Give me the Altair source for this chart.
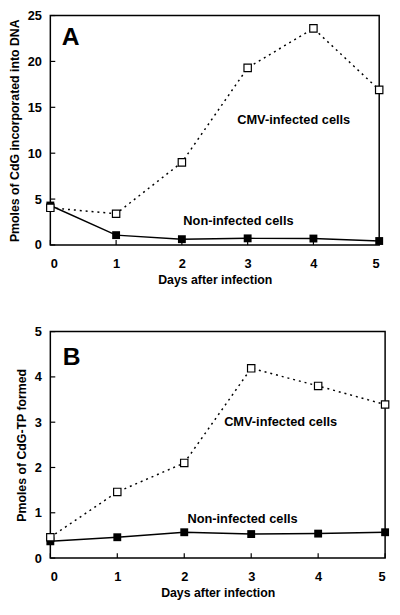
import altair as alt
import pandas as pd

days = [0, 1, 2, 3, 4, 5]
a_cmv = [4.05, 3.4, 9.0, 19.3, 23.6, 16.9]
a_non = [4.3, 1.07, 0.63, 0.72, 0.7, 0.43]
b_cmv = [0.46, 1.46, 2.1, 4.19, 3.8, 3.39]
b_non = [0.37, 0.46, 0.57, 0.53, 0.54, 0.57]

a_ticks = [0, 5, 10, 15, 20, 25]
b_ticks = [0, 1, 2, 3, 4, 5]

a_labels = ["A", "CMV-infected cells", "Non-infected cells"]
a_lx = [0.31, 3.70, 2.86]
a_ly = [22.6, 13.6, 2.6]
b_labels = ["B", "CMV-infected cells", "Non-infected cells"]
b_lx = [0.32, 3.44, 2.87]
b_ly = [4.43, 3.0, 0.87]

FONT = "Liberation Sans"


def panel(cmv, non, yticks, ytitle, labels, lx, ly, w, h):
    ymax = yticks[-1]
    df = pd.DataFrame({"day": days, "cmv": cmv, "non": non})
    xs = alt.Scale(domain=[0, 5], nice=False, zero=False)
    ys = alt.Scale(domain=[0, ymax], nice=False)
    xax = alt.Axis(values=days, title="Days after infection", tickSize=0, domain=False,
                   grid=False, labelPadding=13, titlePadding=3, format="d")
    yax = alt.Axis(values=yticks, title=ytitle, tickSize=0, domain=False, grid=False,
                   labelPadding=9, titlePadding=6, format="d")
    base = alt.Chart(df)
    x = alt.X("day:Q", scale=xs, axis=xax)
    line_non = base.mark_line(color="black", strokeWidth=1.5).encode(
        x=x, y=alt.Y("non:Q", scale=ys, axis=yax))
    line_cmv = base.mark_line(color="black", strokeWidth=1.5, strokeDash=[2, 4]).encode(
        x=alt.X("day:Q", scale=xs), y=alt.Y("cmv:Q", scale=ys))
    pt_non = base.mark_point(shape="square", size=64, filled=True, color="black", opacity=1).encode(
        x=alt.X("day:Q", scale=xs), y=alt.Y("non:Q", scale=ys))
    pt_cmv = base.mark_point(shape="square", size=56, filled=True, fill="white", stroke="black",
                             strokeWidth=1.2, opacity=1).encode(
        x=alt.X("day:Q", scale=xs), y=alt.Y("cmv:Q", scale=ys))
    ldf = pd.DataFrame({"t": labels, "x": lx, "y": ly,
                        "s": [25, 13, 13]})
    txt = alt.Chart(ldf).mark_text(font=FONT, fontWeight="bold", color="black").encode(
        x=alt.X("x:Q", scale=xs), y=alt.Y("y:Q", scale=ys), text="t:N",
        size=alt.Size("s:Q", scale=None, legend=None))
    ytk = alt.Chart(pd.DataFrame({"v": yticks})).mark_rule(color="black", strokeWidth=1.2).encode(
        y=alt.Y("v:Q", scale=ys), x=alt.value(0), x2=alt.value(5))
    xtk = alt.Chart(pd.DataFrame({"d": days})).mark_rule(color="black", strokeWidth=1.2).encode(
        x=alt.X("d:Q", scale=xs), y=alt.value(h), y2=alt.value(h - 5))
    return alt.layer(line_non, line_cmv, ytk, xtk, pt_non, pt_cmv, txt).properties(width=w, height=h)


pa = panel(a_cmv, a_non, a_ticks, "Pmoles of CdG incorporated into DNA", a_labels, a_lx, a_ly, 334, 233)
pb = panel(b_cmv, b_non, b_ticks, "Pmoles of CdG-TP formed", b_labels, b_lx, b_ly, 340, 230)

chart = alt.vconcat(pa, pb, spacing=38).properties(
    padding={"left": -1, "top": -4, "right": 0, "bottom": 0}
).configure_view(stroke="black", strokeWidth=1.5).configure_axis(
    labelFont=FONT, labelFontSize=13, labelFontWeight="bold", labelColor="black",
    titleFont=FONT, titleFontSize=12.5, titleFontWeight="bold", titleColor="black",
)

chart.save("out.html", embed_options={"renderer": "svg", "actions": False})
